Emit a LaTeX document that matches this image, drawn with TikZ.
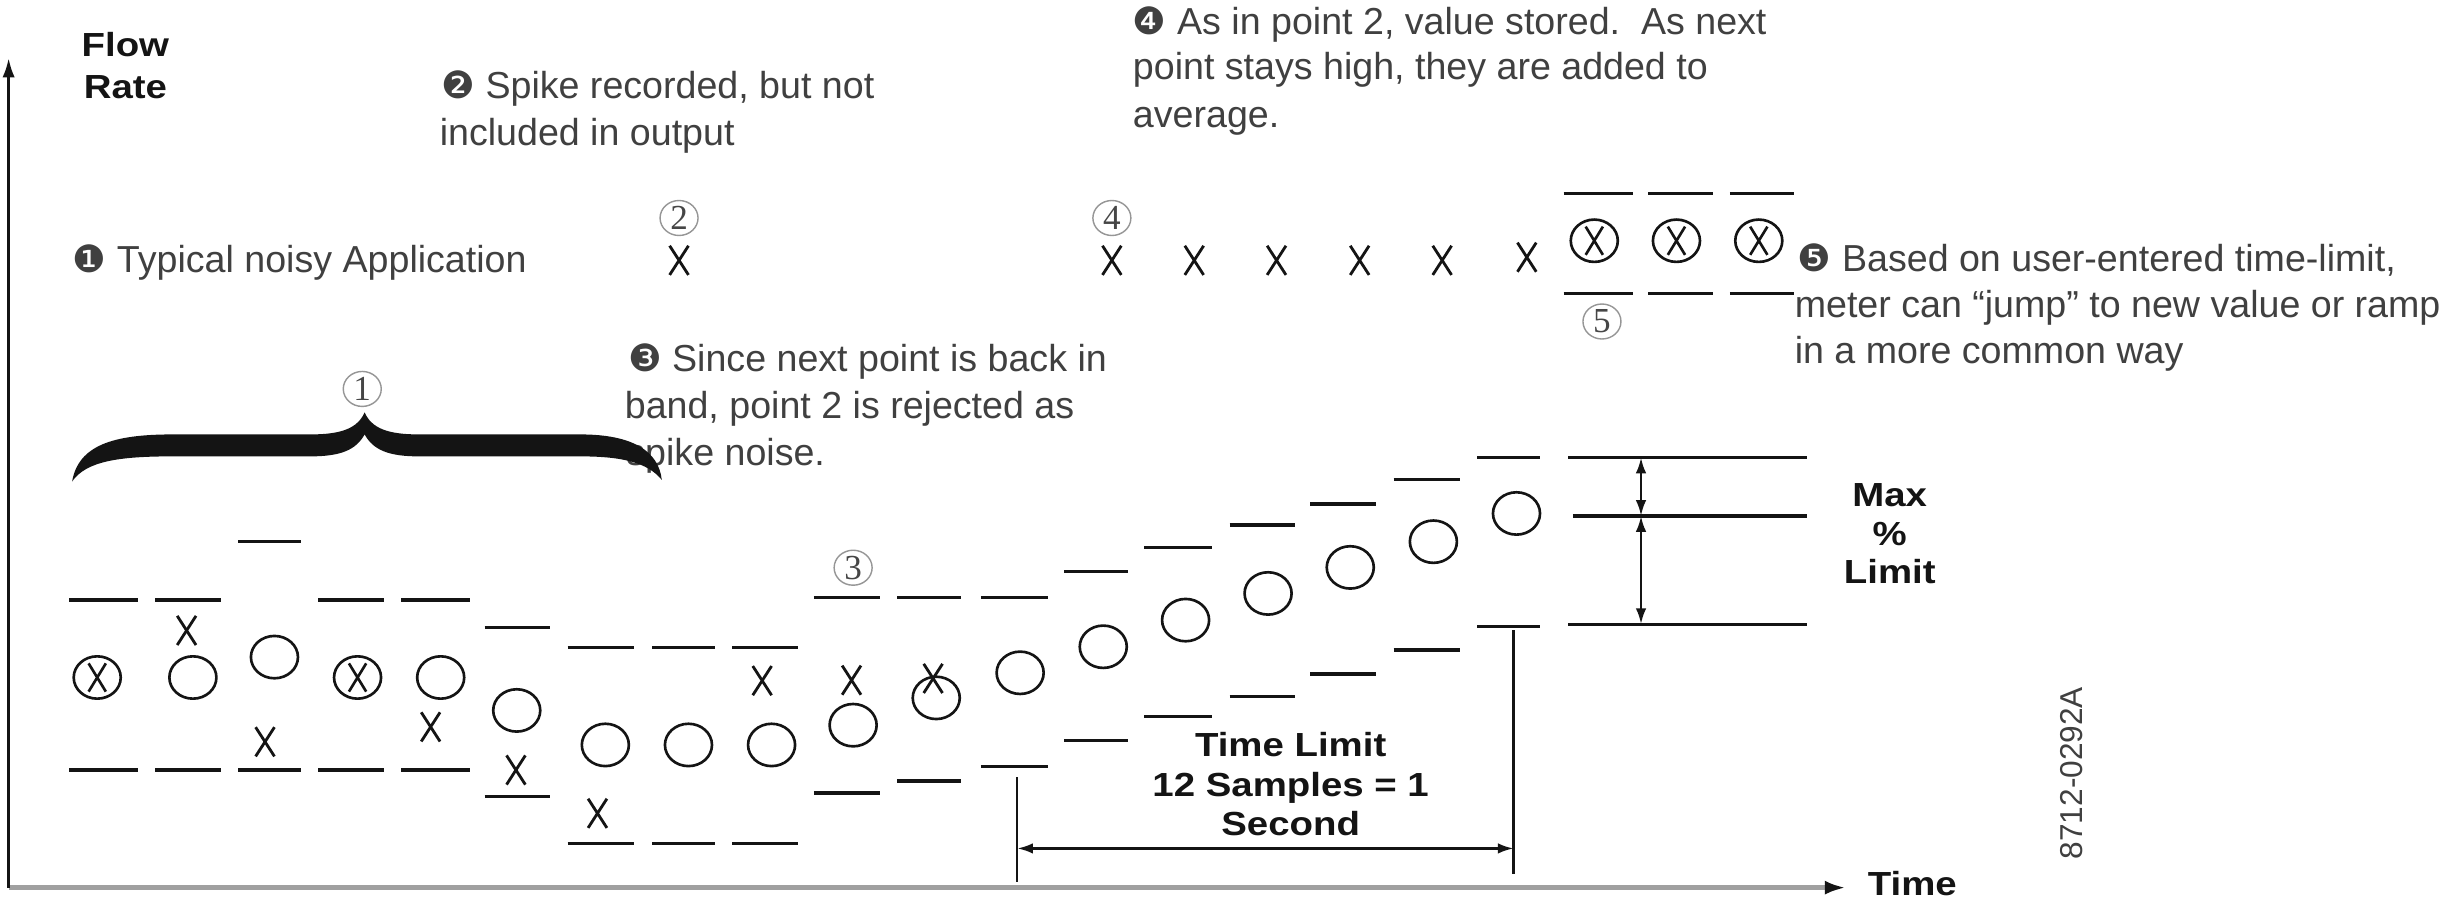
\documentclass[tikz,border=0pt]{standalone}
\usepackage{fontspec}
\setmainfont{Liberation Sans}
\newfontfamily\dingfont{DejaVu Sans}
\newfontfamily\labfont[FakeStretch=1.15]{Liberation Sans}
\newfontfamily\numfont{Liberation Serif}
\usetikzlibrary{arrows.meta,shapes.geometric}

\definecolor{annot}{RGB}{64,64,64}
\definecolor{ink}{RGB}{20,20,20}
\definecolor{axisgray}{RGB}{160,160,160}
\definecolor{ringgray}{RGB}{150,150,150}
\definecolor{digitgray}{RGB}{70,70,70}

\newcommand{\dg}[1]{{\dingfont #1}}

\tikzset{
  note/.style={font=\fontsize{10.7}{13.2}\selectfont, text=annot, inner sep=0pt, anchor=base west},
  lab/.style={font=\labfont\bfseries\fontsize{9.5}{11.1}\selectfont, text=ink, inner sep=0pt},
  bar/.style={line width=0.9pt, draw=ink},
  dimline/.style={line width=0.75pt, draw=ink},
  dimarrow/.style={line width=0.75pt, draw=ink, {Latex[length=4.5pt,width=3pt]}-{Latex[length=4.5pt,width=3pt]}},
  tag/.style={ellipse, draw=ringgray, line width=0.4pt, inner sep=0pt,
    minimum width=0.38cm, minimum height=0.35cm, text=digitgray,
    font=\numfont\fontsize{10}{10}\selectfont},
  xmark/.pic={\draw[line width=0.8pt, ink] (-6,-9.3) -- (6,9.3) (-6,9.3) -- (6,-9.3);},
  omark/.pic={\draw[line width=0.75pt, ink] (0,0) ellipse [x radius=15, y radius=13.5];},
  oxmark/.pic={\draw[line width=0.75pt, ink] (0,0) ellipse [x radius=15, y radius=13.5]
     (-5.5,-9) -- (5.5,9) (-5.5,9) -- (5.5,-9);},
}

\begin{document}
\begin{tikzpicture}[x=0.015682cm, y=-0.015682cm]
\useasboundingbox[fill=white] (0,0) rectangle (1568,573);

% axes
\coordinate (origin) at (5.5,566);
\coordinate (ytop) at (5.5,37);
\coordinate (xend) at (1177,566);
\draw[axisgray, line width=1.4pt, -{Latex[length=6pt,width=4pt,color=ink]}] (origin) -- (xend);
\draw[ink, line width=0.8pt, -{Latex[length=5.5pt,width=3.5pt]}] (origin) -- (ytop);

\node[lab, anchor=base west] (flow) at (51.6,36.1) {Flow};
\node[lab, anchor=base west] (rate) at (53,62.6) {Rate};
\node[lab, anchor=base west] (time) at (1190.6,570.8) {Time};

% band limits of each sample
\foreach \a/\b/\t/\u in {
  44/88/382.6/491, 99/141/382.6/491, 152/192/345.5/491, 203/245/382.6/491,
  256/300/382.6/491, 309/351/400/508, 362/404/412.7/538, 416/456/412.7/538,
  467/509/412.7/538, 519/561/381/505.6, 572/613/381/498, 625.5/668/381/489,
  678.5/719/364.6/472.4, 729.6/773/349/457, 784/826/334.8/443.9,
  835.5/877.5/321.4/429.8, 888.6/931/306/414.5, 942/982/291.7/399.7,
  997/1041/123.3/187, 1051/1092/123.3/187, 1103/1144/123.3/187}
  {\draw[bar] (\a,\t) -- (\b,\t) (\a,\u) -- (\b,\u);}

% recorded values (X), output values (O), both (circled X)
\foreach \p in {(62,432), (228,432), (1016.6,153.5), (1069,153.5), (1121.5,153.5)}
  \pic at \p {oxmark};
\foreach \p in {(123,432), (175,419), (281,432), (329.5,453), (386,475), (439,475),
  (492,475), (544,462.4), (597,445), (650.5,429), (703.5,412.4), (756,395.4),
  (808.6,378.4), (861,361.8), (914,345.4), (967,327.4)}
  \pic at \p {omark};
\foreach \p in {(119,402), (169,473), (274.6,463.5), (329,491), (381,518.6), (486,434),
  (543,433.7), (595,432.6), (433,166), (709,166), (761.5,166), (814,166), (867,166),
  (919.6,166), (973.6,164)}
  \pic at \p {xmark};

% reference numbers
\node[tag] (t1) at (231,248) {1};
\node[tag] (t2) at (433,139) {2};
\node[tag] (t3) at (544,362) {3};
\node[tag] (t4) at (709,139) {4};
\node[tag] (t5) at (1021.5,205) {5};

% max % limit
\draw[bar] (1000,291.7) -- (1152,291.7);
\draw[bar] (1003,329) -- (1152,329);
\draw[bar] (1000,398) -- (1152,398);
\coordinate (ma) at (1046.4,291.7);
\coordinate (mb) at (1046.4,329);
\coordinate (mc) at (1046.4,398);
\draw[dimarrow] (ma) -- (mb);
\draw[dimarrow] (mb) -- (mc);
\node[lab, anchor=base] (max) at (1205,323) {Max};
\node[lab, anchor=base] (pct) at (1205,347.6) {\%};
\node[lab, anchor=base] (lim) at (1205,372) {Limit};

% time limit
\coordinate (la) at (648.6,495.5);
\coordinate (lb) at (648.6,562.5);
\coordinate (ra) at (965.2,402);
\coordinate (rb) at (965.2,557);
\coordinate (da) at (648.6,541);
\coordinate (db) at (965.2,541);
\draw[dimline] (la) -- (lb);
\draw[dimline] (ra) -- (rb);
\draw[dimarrow] (da) -- (db);
\node[lab, anchor=base] (tl1) at (823,482.6) {Time Limit};
\node[lab, anchor=base] (tl2) at (823,508) {12 Samples = 1};
\node[lab, anchor=base] (tl3) at (823,532.6) {Second};

\node[font=\fontsize{9}{9}\selectfont, text=annot, rotate=90, inner sep=0pt] (code) at (1321,493) {8712-0292A};

% notes
\node[note] (n1) at (46,174) {\dg{❶} Typical noisy Application};
\node[note] (n2a) at (281,63) {\dg{❷} Spike recorded, but not};
\node[note] (n2b) at (280,93) {included in output};
\node[note] (n3a) at (400,237) {\dg{❸} Since next point is back in};
\node[note] (n3b) at (398,267) {band, point 2 is rejected as};
\node[note] (n3c) at (399,296.5) {spike noise.};
\node[note] (n4a) at (722,22) {\dg{❹} As in point 2, value stored.\ \ As next};
\node[note] (n4b) at (722,51) {point stays high, they are added to};
\node[note] (n4c) at (722,81) {average.};
\node[note] (n5a) at (1146,173) {\dg{❺} Based on user-entered time-limit,};
\node[note] (n5b) at (1144,202.5) {meter can “jump” to new value or ramp};
\node[note] (n5c) at (1144,232) {in a more common way};

% brace over the first group of samples
\fill[ink] (46,307) .. controls (50,284) and (72,277) .. (110,277) -- (198,277)
  .. controls (218,277) and (228,273) .. (232.5,263)
  .. controls (237,273) and (247,277) .. (267,277) -- (370,277)
  .. controls (404,277) and (420,288) .. (422,306)
  .. controls (413,295) and (397,291) .. (370,291) -- (267,291)
  .. controls (248,291) and (238,287) .. (232.5,277)
  .. controls (227,287) and (217,291) .. (198,291) -- (110,291)
  .. controls (76,291) and (55,294) .. (46,307) -- cycle;
\end{tikzpicture}
\end{document}
